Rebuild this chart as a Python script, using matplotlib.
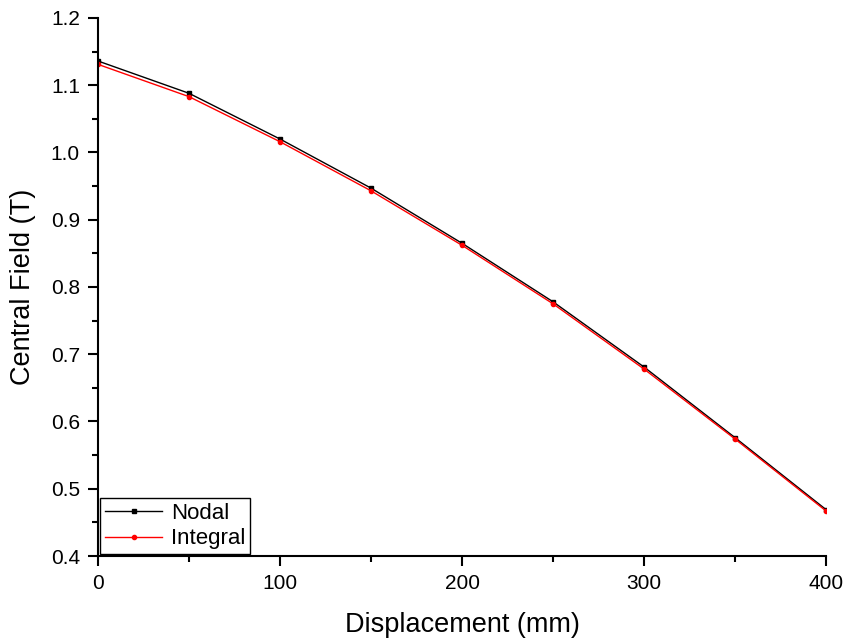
import matplotlib
matplotlib.use("Agg")
import matplotlib.pyplot as plt
from matplotlib.ticker import MultipleLocator

plt.rcParams['font.family'] = ['Liberation Sans', 'DejaVu Sans']

displacement = [0, 50, 100, 150, 200, 250, 300, 350, 400]
nodal = [1.136, 1.088, 1.020, 0.947, 0.865, 0.778, 0.681, 0.576, 0.469]
integral = [1.131, 1.083, 1.016, 0.943, 0.862, 0.775, 0.678, 0.574, 0.467]

fig = plt.figure(figsize=(8.46, 6.4), dpi=100)
ax = fig.add_axes([0.1158, 0.13125, 0.8606, 0.8407])

ax.plot(displacement, nodal, color='black', lw=1, marker='s', ms=3, label='Nodal')
ax.plot(displacement, integral, color='red', lw=1, marker='o', ms=3, label='Integral')

ax.set_xlim(0, 400)
ax.set_ylim(0.4, 1.2)
ax.xaxis.set_major_locator(MultipleLocator(100))
ax.xaxis.set_minor_locator(MultipleLocator(50))
ax.yaxis.set_major_locator(MultipleLocator(0.1))
ax.yaxis.set_minor_locator(MultipleLocator(0.05))
ax.yaxis.set_major_formatter(plt.FormatStrFormatter('%.1f'))

for s in ['top', 'right']:
    ax.spines[s].set_visible(False)
for s in ['left', 'bottom']:
    ax.spines[s].set_linewidth(1.5)
ax.tick_params(which='major', direction='out', length=7, width=1.5, labelsize=15, pad=6)
ax.tick_params(which='minor', direction='out', length=4, width=1.5)

ax.set_xlabel('Displacement (mm)', fontsize=19.5, labelpad=14)
ax.set_ylabel('Central Field (T)', fontsize=19.5, labelpad=11)

leg = ax.legend(loc='lower left', fontsize=16, fancybox=False, edgecolor='black',
                framealpha=1, borderaxespad=0.1, handlelength=2.6, borderpad=0.2,
                labelspacing=0.2, handletextpad=0.4)
leg.get_frame().set_linewidth(1)

plt.savefig('out.png', dpi=100)
